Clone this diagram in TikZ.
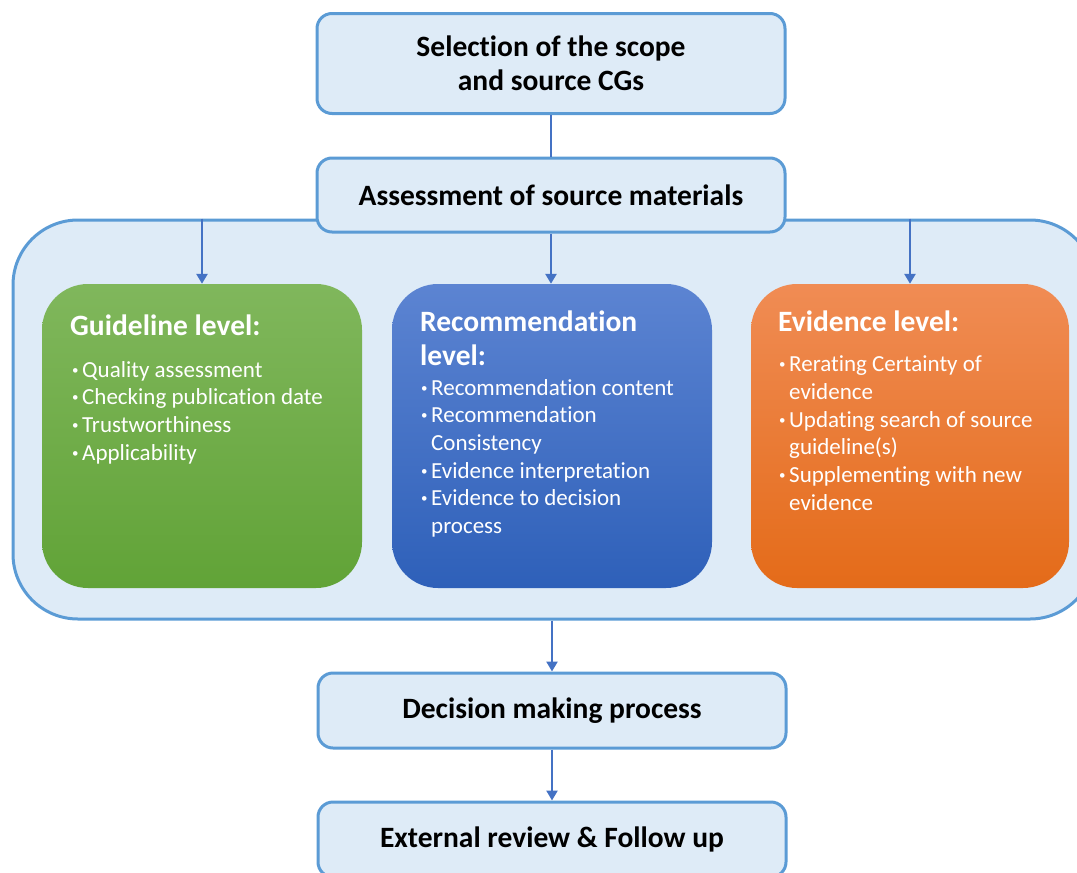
\documentclass[tikz,border=0pt]{standalone}
\usepackage{fontspec}
\setmainfont{Carlito}[Ligatures=NoCommon]
\usetikzlibrary{arrows.meta}
\definecolor{boxfill}{HTML}{DEEBF7}
\definecolor{boxline}{HTML}{5B9BD5}
\definecolor{arrowc}{HTML}{4472C4}
\definecolor{gtop}{HTML}{80B75C}
\definecolor{gbot}{HTML}{61A337}
\definecolor{btop}{HTML}{5C84D2}
\definecolor{bbot}{HTML}{2E60B9}
\definecolor{otop}{HTML}{F08C54}
\definecolor{obot}{HTML}{E46B19}
\newcommand\bitem[1]{\par\noindent\hangindent=10pt\hangafter=1\makebox[10pt][l]{\raisebox{3pt}{\fontsize{13}{13}\selectfont\textbullet}}#1}
\newcommand\blist[1]{\vtop{\hsize=300pt\raggedright\parindent=0pt #1}}
\begin{document}
\begin{tikzpicture}[x=1pt,y=-1pt,
  sbox/.style={draw=boxline, line width=3pt, fill=boxfill, rounded corners=15pt,
    minimum width=468pt, inner sep=0pt, align=center,
    font=\fontsize{29.5}{34.5}\selectfont\bfseries},
  cont/.style={draw=boxline, line width=3pt, fill=boxfill, rounded corners=65pt,
    minimum width=1082pt, minimum height=399pt, inner sep=0pt},
  cbox/.style={rounded corners=46pt, minimum height=304pt, inner sep=0pt},
  ttl/.style={text=white, inner sep=0pt, anchor=base west, align=left,
    font=\fontsize{29.5}{33.3}\selectfont\bfseries},
  lst/.style={text=white, inner sep=0pt, anchor=base west,
    font=\fontsize{23}{27.7}\selectfont},
  arr/.style={draw=arrowc, line width=2.8pt, -{Triangle[width=11pt,length=10pt]}},
  lnk/.style={draw=arrowc, line width=2.8pt}]
\useasboundingbox (0,0) rectangle (1077,873);
\clip (0,0) rectangle (1077,873);

% container
\node[cont] (cont) at (554,419.5) {};

% coloured boxes
\node[cbox, minimum width=320pt, top color=gtop, bottom color=gbot] (green) at (202,436) {};
\node[cbox, minimum width=320pt, top color=btop, bottom color=bbot] (blue) at (552,436) {};
\node[cbox, minimum width=318pt, top color=otop, bottom color=obot] (orange) at (910,436) {};

% texts in coloured boxes
\node[ttl] (gtitle) at (70,335) {Guideline level:};
\node[lst] (glist) at (72,377) {\blist{%
\bitem{Quality assessment}
\bitem{Checking publication date}
\bitem{Trustworthiness}
\bitem{Applicability}}};

\node[ttl] (btitle) at (420,365) {Recommendation\\level:};
\node[lst] (blist) at (421,395) {\blist{%
\bitem{Recommendation content}
\bitem{Recommendation\newline Consistency}
\bitem{Evidence interpretation}
\bitem{Evidence to decision\newline process}}};

\node[ttl] (otitle) at (778,331) {Evidence level:};
\node[lst] (olist) at (779,371.7) {\blist{%
\bitem{Rerating Certainty of\newline evidence}
\bitem{Updating search of source\newline guideline(s)}
\bitem{Supplementing with new\newline evidence}}};

% small boxes
\node[sbox, minimum height=100pt] (sel) at (551,63.5) {Selection of the scope\\and source CGs};
\node[sbox, minimum height=74pt] (asm) at (551,195) {Assessment of source materials};
\node[sbox, minimum height=75pt] (dec) at (552,710.5) {Decision making process};
\node[sbox, minimum height=75pt] (ext) at (552,839.5) {External review \& Follow up};

% connectors
\draw[lnk] (sel.south) -- (asm.north);
\draw[arr] (green.north |- cont.north) -- (green.north);
\draw[arr] (asm.south) -- (asm.south |- blue.north);
\draw[arr] (orange.north |- cont.north) -- (orange.north);
\draw[arr] (cont.south -| dec.north) -- (dec.north);
\draw[arr] (dec.south) -- (ext.north);
\end{tikzpicture}
\end{document}
